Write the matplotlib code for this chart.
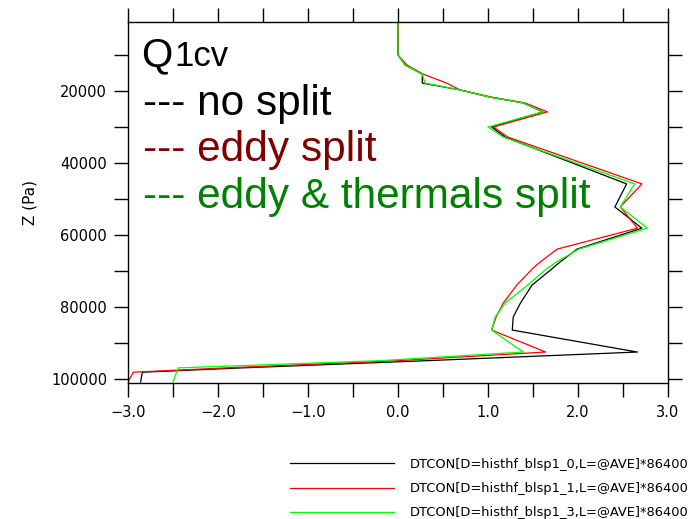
import matplotlib
matplotlib.use("Agg")
import matplotlib.pyplot as plt
from matplotlib.ticker import MultipleLocator, FuncFormatter, FormatStrFormatter

# pressure levels (Pa) and heating rate profiles (K/day)
pressure = [850, 10000, 12800, 15300, 17800, 19700, 21700, 23300, 25800,
            30000, 32800, 45800, 52200, 58100, 63900, 67500, 69200, 73900,
            78900, 82800, 86400, 92500, 94900, 96900, 98100, 100800]

no_split = [0.0, 0.0, 0.08, 0.27, 0.27, 0.69, 1.02, 1.39, 1.61,
            1.04, 1.19, 2.54, 2.41, 2.71, 1.99, 1.80, 1.72, 1.49,
            1.36, 1.28, 1.27, 2.66, 0.32, -1.73, -2.84, -2.86]

eddy_split = [0.0, 0.0, 0.10, 0.28, 0.54, 0.69, 1.04, 1.41, 1.66,
              1.06, 1.22, 2.71, 2.47, 2.66, 1.77, 1.58, 1.50, 1.32,
              1.17, 1.09, 1.04, 1.64, 0.00, -1.91, -2.94, -3.00]

thermals_split = [0.0, 0.0, 0.08, 0.27, 0.30, 0.69, 1.02, 1.39, 1.61,
                  1.00, 1.17, 2.63, 2.47, 2.77, 2.01, 1.76, 1.66, 1.44,
                  1.19, 1.08, 1.04, 1.39, -0.20, -2.44, -2.46, -2.50]

labels = ["DTCON[D=histhf_blsp1_0,L=@AVE]*86400",
          "DTCON[D=histhf_blsp1_1,L=@AVE]*86400",
          "DTCON[D=histhf_blsp1_3,L=@AVE]*86400"]

fig = plt.figure(figsize=(6.94, 5.19), dpi=100)
ax = fig.add_axes([128/694, 136/519, 540/694, 361/519])

ax.plot(no_split, pressure, color="black", lw=0.9, label=labels[0])
ax.plot(eddy_split, pressure, color="#ff0000", lw=0.9, label=labels[1])
ax.plot(thermals_split, pressure, color="#00ff00", lw=0.9, label=labels[2])

ax.set_xlim(-3.0, 3.0)
ax.set_ylim(101100, 833)

ax.xaxis.set_major_locator(MultipleLocator(1.0))
ax.xaxis.set_minor_locator(MultipleLocator(0.5))
ax.xaxis.set_major_formatter(FuncFormatter(lambda v, pos: f"{v:.1f}".replace("-", "\u2212")))
ax.yaxis.set_major_locator(MultipleLocator(20000))
ax.yaxis.set_minor_locator(MultipleLocator(10000))
ax.yaxis.set_major_formatter(FormatStrFormatter("%d"))

ax.tick_params(which="both", direction="out", length=10, width=1,
               top=True, right=True, labelsize=10.5, colors="black")
ax.tick_params(axis="x", pad=6)
ax.tick_params(axis="y", pad=5)
for sp in ax.spines.values():
    sp.set_linewidth(1)

ax.set_ylabel("Z (Pa)", fontsize=11, labelpad=10)

# annotations inside the frame
ax.text(0.024, 0.878, "Q", transform=ax.transAxes, fontsize=29,
        family="Liberation Sans", va="baseline")
ax.text(0.085, 0.878, "1cv", transform=ax.transAxes, fontsize=25,
        family="Liberation Sans", va="baseline")
ax.text(0.028, 0.742, "--- no split", transform=ax.transAxes, fontsize=30.5,
        family="Liberation Sans", va="baseline", color="black")
ax.text(0.028, 0.615, "--- eddy split", transform=ax.transAxes, fontsize=30.5,
        family="Liberation Sans", va="baseline", color="#800000")
ax.text(0.028, 0.485, "--- eddy & thermals split", transform=ax.transAxes,
        fontsize=30.5, family="Liberation Sans", va="baseline", color="#008000")

fig.legend(loc="upper left", bbox_to_anchor=(290/694, 1 - 458/519),
           frameon=False, fontsize=9.4, handlelength=8.0, handletextpad=1.15,
           labelspacing=0.85, borderpad=0, borderaxespad=0)

fig.savefig("out.png", dpi=100)
